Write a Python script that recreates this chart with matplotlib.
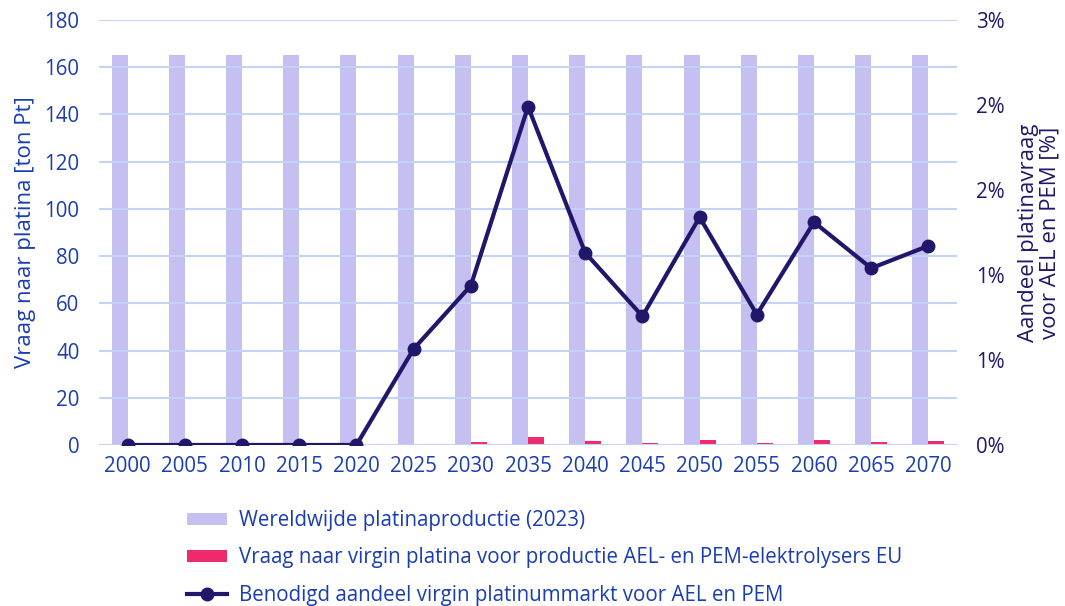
import numpy as np
import matplotlib.pyplot as plt
from matplotlib.ticker import PercentFormatter, MultipleLocator

plt.rcParams["font.family"] = ["Open Sans", "DejaVu Sans"]

# data
jaren = ["2000", "2005", "2010", "2015", "2020", "2025", "2030", "2035",
         "2040", "2045", "2050", "2055", "2060", "2065", "2070"]
wereldproductie = [165] * 15
vraag_elektrolysers = [0, 0, 0, 0, 0, 0.5, 1.3, 3.2, 1.5, 1.0, 1.9, 1.0, 1.9, 1.4, 1.8]
aandeel_pct = [0, 0, 0, 0, 0, 0.678, 1.125, 2.388, 1.357, 0.909, 1.608, 0.921,
               1.573, 1.248, 1.406]

labels = [
    "Wereldwijde platinaproductie (2023)",
    "Vraag naar virgin platina voor productie AEL- en PEM-elektrolysers EU",
    "Benodigd aandeel virgin platinummarkt voor AEL en PEM",
]

PAARS = "#C5BFF2"
ROZE = "#EE2A6B"
DONKER = "#21176A"
BLAUW = "#1A3DB0"
GRID = "#C3D3F7"

fig = plt.figure(figsize=(10.65, 6.06), dpi=100)
ax = fig.add_axes([0.093, 0.2657, 0.8056, 0.7013])
ax2 = ax.twinx()

x = np.arange(len(jaren))
w = 0.28
b1 = ax.bar(x - w / 2, wereldproductie, w, color=PAARS, zorder=1)
b2 = ax.bar(x + w / 2, vraag_elektrolysers, w, color=ROZE, zorder=1)

(l1,) = ax2.plot(x, aandeel_pct, color=DONKER, lw=3, marker="o", ms=9, zorder=3)

ax.set_xlim(-0.5, 14.5)
ax.set_ylim(0, 180)
ax.yaxis.set_major_locator(MultipleLocator(20))
ax2.set_ylim(0, 3)
ax2.set_yticks([0, 0.6, 1.2, 1.8, 2.4, 3.0])
ax2.yaxis.set_major_formatter(PercentFormatter(decimals=0))

ax.set_axisbelow(False)
ax.grid(axis="y", color=GRID, lw=1.5, zorder=2)
ax.set_xticks(x, jaren)

for a in (ax, ax2):
    for s in a.spines.values():
        s.set_visible(False)
    a.tick_params(length=0, labelsize=14.8)

ax.tick_params(axis="x", colors=BLAUW, pad=8)
ax.tick_params(axis="y", colors=BLAUW, pad=14)
ax2.tick_params(axis="y", colors=DONKER, pad=14)

ax.set_ylabel("Vraag naar platina [ton Pt]", color=BLAUW, fontsize=16, labelpad=6)
ax2.set_ylabel("Aandeel platinavraag\nvoor AEL en PEM [%]", color=DONKER,
               fontsize=16, labelpad=9, linespacing=1.05)

leg = fig.legend([b1, b2, l1], labels, loc="upper left",
                 bbox_to_anchor=(0.168, 0.172), frameon=False, fontsize=14.8,
                 handlelength=1.95, handleheight=0.5, handletextpad=0.55,
                 labelspacing=0.8, borderaxespad=0)
for t in leg.get_texts():
    t.set_color(BLAUW)

fig.savefig("out.png", dpi=100)
